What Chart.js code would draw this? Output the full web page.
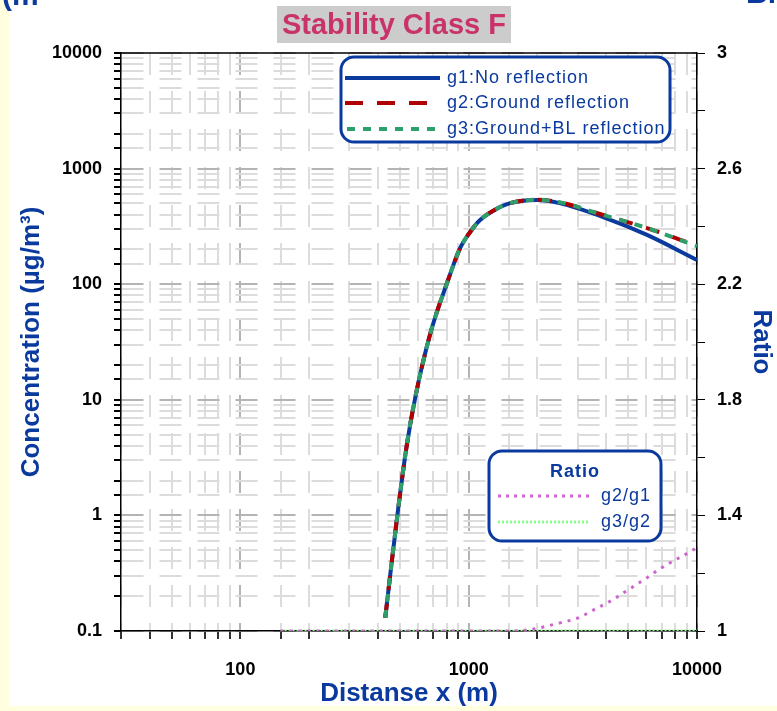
<!DOCTYPE html>
<html>
<head>
<meta charset="utf-8">
<script src="https://cdn.jsdelivr.net/npm/chart.js@4.4.1/dist/chart.umd.min.js"></script>
<style>
  html, body { margin: 0; padding: 0; background: #fff; }
</style>
</head>
<body>
<canvas id="myChart" width="777" height="711"></canvas>
<script>
// concentration curves (distance in m, concentration in ug/m3)
var distG = [431, 458, 487, 533, 583, 680, 806, 918, 1015, 1122, 1345, 1519, 1995, 2500, 3880, 6040, 10000];
var g1 = [0.13, 0.365, 1.0, 3.8, 10.4, 37.8, 104, 206, 283, 359, 456, 503, 535, 503, 381, 267, 162];
var g2 = [0.13, 0.365, 1.0, 3.8, 10.4, 37.8, 104, 206, 283, 359, 456, 503, 537, 512, 397, 306, 215];
var g3 = [0.13, 0.365, 1.0, 3.8, 10.4, 37.8, 104, 206, 283, 359, 456, 503, 537, 512, 397, 306, 213];

// ratio curves
var distR = [150, 300, 600, 1000, 1500, 1860, 2510, 3010, 3580, 4250, 4990, 5920, 6880, 8170, 9590, 10000];
var g2g1 = [1, 1, 1, 1, 1, 1.005, 1.028, 1.045, 1.076, 1.107, 1.142, 1.18, 1.215, 1.249, 1.28, 1.29];
var g3g2 = [1, 1, 1, 1, 1, 1, 1, 1, 1, 1, 1, 1, 1, 1, 1, 1];

var leftTicks = [0.1, 1, 10, 100, 1000, 10000];
var ratioTicks = [1, 1.4, 1.8, 2.2, 2.6, 3];

function pts(xs, ys) {
    return xs.map(function (x, i) { return { x: x, y: ys[i] }; });
}
function isPow10(v) {
    var l = Math.log10(v);
    return Math.abs(l - Math.round(l)) < 1e-6;
}

var BLUE = '#0a3a9e';
var FONT = '"Liberation Sans", Arial, sans-serif';

var decor = {
    id: 'decor',
    beforeDraw: function (chart) {
        var c = chart.ctx;
        c.save();
        c.fillStyle = '#ffffff';
        c.fillRect(0, 0, chart.width, chart.height);
        c.fillStyle = '#ffffe0';
        c.fillRect(0, 0, 9, chart.height);
        c.fillRect(0, 706, chart.width, 5);
        // cut-off text at the top edges
        c.fillStyle = BLUE;
        c.font = 'bold 30px ' + FONT;
        c.textBaseline = 'alphabetic';
        c.textAlign = 'left';
        c.fillText('(m', 2, 5);
        c.fillText('Bi', 746, 3);
        // title
        c.fillStyle = '#cccccc';
        c.fillRect(277, 6, 234, 37);
        c.fillStyle = '#c9336a';
        c.font = 'bold 29px ' + FONT;
        c.textAlign = 'center';
        c.textBaseline = 'middle';
        c.fillText('Stability Class F', 394, 26);
        c.restore();
    },
    afterDraw: function (chart) {
        var c = chart.ctx;
        var a = chart.chartArea;
        c.save();
        c.strokeStyle = '#000';
        c.lineWidth = 1.5;
        c.beginPath();
        c.moveTo(a.left, a.top);
        c.lineTo(a.right, a.top);
        c.stroke();

        function box(x, y, w, h) {
            c.beginPath();
            c.roundRect(x, y, w, h, 13);
            c.fillStyle = '#fff';
            c.fill();
            c.lineWidth = 3;
            c.strokeStyle = BLUE;
            c.stroke();
        }
        function sample(x1, x2, y, color, width, dash) {
            c.beginPath();
            c.setLineDash(dash);
            c.lineWidth = width;
            c.strokeStyle = color;
            c.moveTo(x1, y);
            c.lineTo(x2, y);
            c.stroke();
            c.setLineDash([]);
        }

        // legend 1
        box(341, 57, 329, 85);
        sample(345, 440, 78, BLUE, 4, []);
        sample(345, 440, 103, '#b00000', 4, [18, 14]);
        sample(347, 440, 129, '#2e9e6a', 4, [8, 8]);
        c.fillStyle = BLUE;
        c.font = '18px ' + FONT;
        c.letterSpacing = '1px';
        c.textAlign = 'left';
        c.textBaseline = 'middle';
        c.fillText('g1:No reflection', 447, 78);
        c.fillText('g2:Ground reflection', 447, 103);
        c.fillText('g3:Ground+BL reflection', 447, 129);

        // legend 2
        box(489, 451, 172, 90);
        c.fillStyle = BLUE;
        c.font = 'bold 18px ' + FONT;
        c.textAlign = 'center';
        c.fillText('Ratio', 575, 472);
        sample(498, 590, 496, '#cc66cc', 3, [3, 5]);
        sample(498, 590, 522, '#88ff88', 3, [2, 2]);
        c.fillStyle = BLUE;
        c.font = '18px ' + FONT;
        c.textAlign = 'left';
        c.fillText('g2/g1', 601, 496);
        c.fillText('g3/g2', 601, 522);
        c.restore();
    }
};

function gridCol(ctx) {
    if (ctx.tick && isPow10(ctx.tick.value)) return '#b4b4b4';
    return '#dcdcdc';
}

new Chart(document.getElementById('myChart'), {
    type: 'line',
    data: {
        datasets: [
            { label: 'g1:No reflection', data: pts(distG, g1), borderColor: BLUE, borderWidth: 4, yAxisID: 'y', order: 3 },
            { label: 'g2:Ground reflection', data: pts(distG, g2), borderColor: '#b00000', borderWidth: 4, borderDash: [14, 14], yAxisID: 'y', order: 2 },
            { label: 'g3:Ground+BL reflection', data: pts(distG, g3), borderColor: '#2e9e6a', borderWidth: 4, borderDash: [8, 8], yAxisID: 'y', order: 1 },
            { label: 'g2/g1', data: pts(distR, g2g1), borderColor: '#cc66cc', borderWidth: 3, borderDash: [3, 6], yAxisID: 'y2', order: 4 },
            { label: 'g3/g2', data: pts(distR, g3g2), borderColor: '#88ff88', borderWidth: 3, borderDash: [2, 2], yAxisID: 'y2', order: 5 }
        ]
    },
    options: {
        responsive: false,
        devicePixelRatio: 1,
        animation: false,
        layout: { padding: { left: 10, right: 0, top: 53, bottom: 0 } },
        elements: {
            point: { radius: 0 },
            line: { cubicInterpolationMode: 'monotone', fill: false }
        },
        plugins: {
            legend: { display: false },
            tooltip: { enabled: false }
        },
        scales: {
            x: {
                type: 'logarithmic',
                min: 30,
                max: 10000,
                afterFit: function (s) { s.height = 80; },
                grid: { color: gridCol, lineWidth: 2, tickColor: '#333', tickLength: 8, tickBorderDash: [] },
                border: { color: '#000', width: 1.5, dash: [22, 16] },
                ticks: {
                    autoSkip: false,
                    maxRotation: 0,
                    padding: 20,
                    color: '#000',
                    font: { family: FONT, size: 18, weight: 'bold' },
                    callback: function (v) { return isPow10(v) ? String(Math.round(v)) : ''; }
                },
                title: {
                    display: true,
                    text: 'Distanse x (m)',
                    color: BLUE,
                    font: { family: FONT, size: 26, weight: 'bold' },
                    padding: { top: 0, bottom: 2 }
                }
            },
            y: {
                type: 'logarithmic',
                position: 'left',
                min: 0.1,
                max: 10000,
                afterFit: function (s) { s.width = 111; },
                grid: { color: gridCol, lineWidth: 2, tickColor: '#000', tickLength: 7, tickBorderDash: [] },
                border: { color: '#000', width: 1.5, dash: [22, 16] },
                ticks: {
                    autoSkip: false,
                    padding: 12,
                    color: '#000',
                    font: { family: FONT, size: 18, weight: 'bold' },
                    callback: function (v) {
                        if (!isPow10(v)) return '';
                        var s = String(Number(v.toPrecision(6)));
                        return leftTicks.indexOf(Number(s)) >= 0 ? s : '';
                    }
                },
                title: {
                    display: true,
                    text: 'Concentration (\u00b5g/m\u00b3)',
                    color: BLUE,
                    font: { family: FONT, size: 26, weight: 'bold' },
                    padding: { top: 6, bottom: 0 }
                }
            },
            y2: {
                type: 'linear',
                position: 'right',
                min: 1,
                max: 3,
                afterFit: function (s) { s.width = 80; },
                grid: { drawOnChartArea: false, tickColor: '#000', tickLength: 8 },
                border: { color: '#000', width: 1.5 },
                ticks: {
                    stepSize: 0.2,
                    padding: 12,
                    color: '#000',
                    font: { family: FONT, size: 18, weight: 'bold' },
                    callback: function (v) {
                        var r = Math.round(v * 10) / 10;
                        return ratioTicks.indexOf(r) >= 0 ? String(r) : '';
                    }
                },
                title: {
                    display: true,
                    text: 'Ratio',
                    color: BLUE,
                    font: { family: FONT, size: 26, weight: 'bold' },
                    padding: { top: 0, bottom: 3 }
                }
            }
        }
    },
    plugins: [decor]
});
</script>
</body>
</html>
